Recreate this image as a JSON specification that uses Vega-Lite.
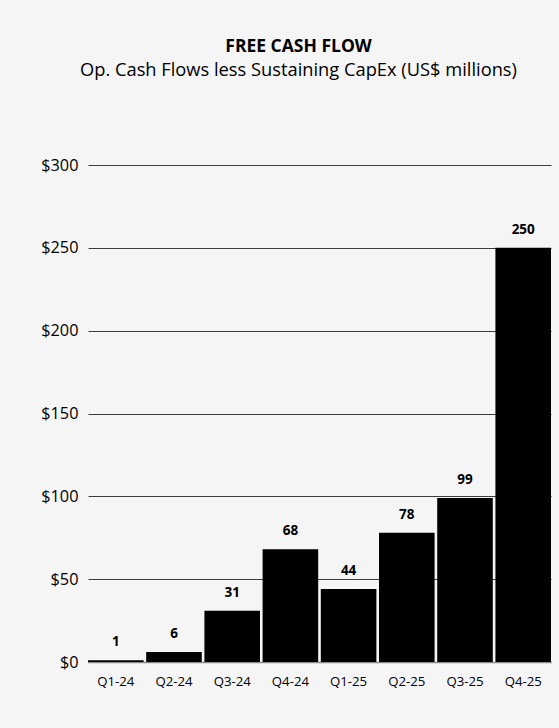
{
  "$schema": "https://vega.github.io/schema/vega-lite/v6.json",
  "width": 463,
  "height": 497,
  "autosize": "none",
  "padding": {"left": 88, "top": 165, "right": 8, "bottom": 66},
  "background": "#f5f5f5",
  "config": {
    "font": "Open Sans",
    "view": {"stroke": null}
  },
  "title": {
    "text": "FREE CASH FLOW",
    "subtitle": "Op. Cash Flows less Sustaining CapEx (US$ millions)",
    "anchor": "middle",
    "dx": -21,
    "offset": 78,
    "font": "Open Sans",
    "fontSize": 17.5,
    "fontWeight": "bold",
    "color": "#000000",
    "subtitleFont": "Open Sans",
    "subtitleFontSize": 18.3,
    "subtitleColor": "#000000",
    "subtitlePadding": 6
  },
  "data": {
    "values": [
      {"quarter": "Q1-24", "fcf": 1},
      {"quarter": "Q2-24", "fcf": 6},
      {"quarter": "Q3-24", "fcf": 31},
      {"quarter": "Q4-24", "fcf": 68},
      {"quarter": "Q1-25", "fcf": 44},
      {"quarter": "Q2-25", "fcf": 78},
      {"quarter": "Q3-25", "fcf": 99},
      {"quarter": "Q4-25", "fcf": 250}
    ]
  },
  "encoding": {
    "x": {
      "field": "quarter",
      "type": "ordinal",
      "sort": null,
      "scale": {"paddingInner": 0.045, "paddingOuter": 0},
      "axis": {
        "title": null,
        "labelAngle": 0,
        "ticks": false,
        "labelPadding": 13,
        "labelFontSize": 13.2,
        "labelColor": "#000000",
        "domainColor": "#8c8c8c",
        "domainWidth": 1.5,
        "grid": false
      }
    },
    "y": {
      "field": "fcf",
      "type": "quantitative",
      "scale": {"domain": [0, 300], "nice": false},
      "axis": {
        "title": null,
        "values": [0, 50, 100, 150, 200, 250, 300],
        "labelExpr": "'$' + datum.value",
        "domain": false,
        "ticks": false,
        "labelPadding": 10,
        "labelFontSize": 16.3,
        "labelColor": "#000000",
        "grid": true,
        "gridColor": "#3c3c3c",
        "gridWidth": 1
      }
    }
  },
  "layer": [
    {
      "mark": {"type": "bar", "color": "#000000"}
    },
    {
      "mark": {
        "type": "text",
        "dy": -14,
        "baseline": "alphabetic",
        "fontWeight": "bold",
        "fontSize": 13.5,
        "color": "#000000"
      },
      "encoding": {"text": {"field": "fcf", "type": "quantitative"}}
    }
  ]
}
